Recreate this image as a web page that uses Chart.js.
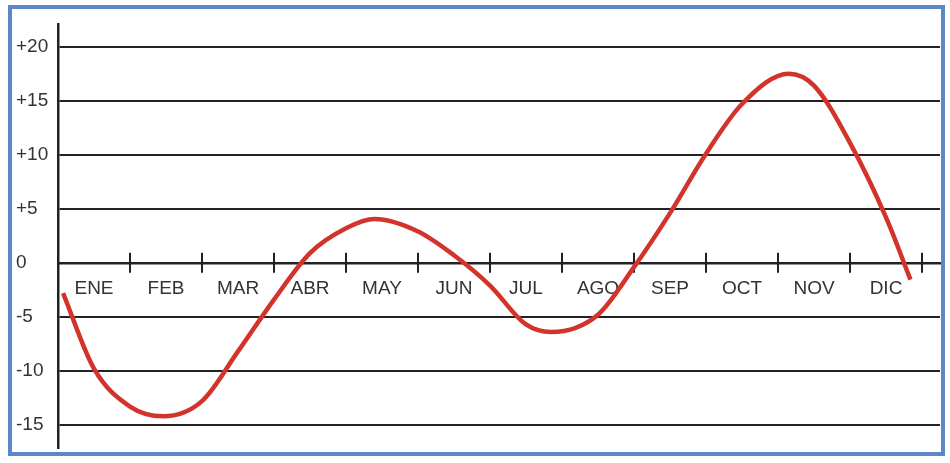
<!DOCTYPE html>
<html>
<head>
<meta charset="utf-8">
<title>Variación mensual</title>
<script src="https://cdn.jsdelivr.net/npm/chart.js@4.4.1/dist/chart.umd.min.js"></script>
<style>
    html, body { margin: 0; padding: 0; background: #fff; }
    #wrap { position: relative; width: 950px; height: 463px; }
    #frame {
        position: absolute; left: 8px; top: 5px; width: 929px; height: 443px;
        border: 4px solid #5b87c8; pointer-events: none;
    }
    canvas { position: absolute; left: 0; top: 0; }
</style>
</head>
<body>
<div id="wrap">
    <canvas id="chart" width="950" height="463"></canvas>
    <div id="frame"></div>
</div>
<script>
// Month labels (Spanish), shown between tick marks on the zero line
const monthLabels = ['ENE', 'FEB', 'MAR', 'ABR', 'MAY', 'JUN', 'JUL', 'AGO', 'SEP', 'OCT', 'NOV', 'DIC'];
const labelPositions = [0.5, 1.5, 2.5, 3.5, 4.5, 5.5, 6.5, 7.5, 8.5, 9.5, 10.5, 11.5];
const tickMarks = [1, 2, 3, 4, 5, 6, 7, 8, 9, 10, 11, 12];

// Y ticks
const yTickValues = [-15, -10, -5, 0, 5, 10, 15, 20];
const yTickLabels = ['-15', '-10', '-5', '0', '+5', '+10', '+15', '+20'];

// Curve (x in months from the axis, y in units)
const curveX = [0.07, 0.5, 1.0, 1.46, 2.0, 2.5, 3.0, 3.5, 4.0, 4.4, 5.0, 5.5, 6.0, 6.5, 6.85, 7.5, 8.0, 8.5, 9.0, 9.5, 10.15, 10.5, 11.0, 11.5, 11.84];
const curveY = [-2.8, -9.8, -13.3, -14.2, -12.8, -8.2, -3.4, 0.9, 3.2, 4.05, 2.9, 0.7, -2.1, -5.7, -6.4, -4.8, -0.4, 4.6, 10.1, 14.7, 17.5, 16.4, 11.1, 4.2, -1.55];

const axisColor = '#222';
const textColor = '#333';
const fontFamily = '"Liberation Sans", Arial, Helvetica, sans-serif';

// short vertical ticks crossing the zero line
const zeroTicks = {
    id: 'zeroTicks',
    beforeDatasetsDraw(chart) {
        const { ctx, scales: { x, y } } = chart;
        const y0 = y.getPixelForValue(0);
        ctx.save();
        ctx.strokeStyle = axisColor;
        ctx.lineWidth = 2;
        tickMarks.forEach(m => {
            const px = Math.round(x.getPixelForValue(m));
            ctx.beginPath();
            ctx.moveTo(px, y0 - 10);
            ctx.lineTo(px, y0 + 10);
            ctx.stroke();
        });
        ctx.restore();
    }
};

const ctx = document.getElementById('chart').getContext('2d');
new Chart(ctx, {
    type: 'line',
    data: {
        datasets: [{
            data: curveX.map((v, i) => ({ x: v, y: curveY[i] })),
            borderColor: '#d2332a',
            borderWidth: 4.5,
            pointRadius: 0,
            cubicInterpolationMode: 'monotone',
            fill: false
        }]
    },
    options: {
        responsive: false,
        animation: false,
        layout: { padding: { left: 16, top: 24, right: 10, bottom: 15 } },
        plugins: {
            legend: { display: false },
            tooltip: { enabled: false }
        },
        scales: {
            x: {
                type: 'linear',
                position: { y: 0 },
                min: 0,
                max: 12.25,
                afterBuildTicks: scale => {
                    scale.ticks = labelPositions.map(v => ({ value: v }));
                },
                ticks: {
                    padding: 15,
                    color: textColor,
                    font: { family: fontFamily, size: 19 },
                    maxRotation: 0,
                    autoSkip: false,
                    callback: (v) => monthLabels[Math.floor(v)]
                },
                grid: { drawOnChartArea: false, drawTicks: false },
                border: { display: true, color: axisColor, width: 2.5 }
            },
            y: {
                type: 'linear',
                position: 'left',
                min: -17.1,
                max: 22.1,
                afterBuildTicks: scale => {
                    scale.ticks = yTickValues.map(v => ({ value: v }));
                },
                afterFit: scale => { scale.width = 42; },
                ticks: {
                    crossAlign: 'far',
                    padding: 4,
                    color: textColor,
                    font: { family: fontFamily, size: 19 },
                    callback: (v) => yTickLabels[yTickValues.indexOf(v)]
                },
                grid: { color: axisColor, lineWidth: 2, drawTicks: false },
                border: { display: true, color: axisColor, width: 2.5 }
            }
        }
    },
    plugins: [zeroTicks]
});
</script>
</body>
</html>
